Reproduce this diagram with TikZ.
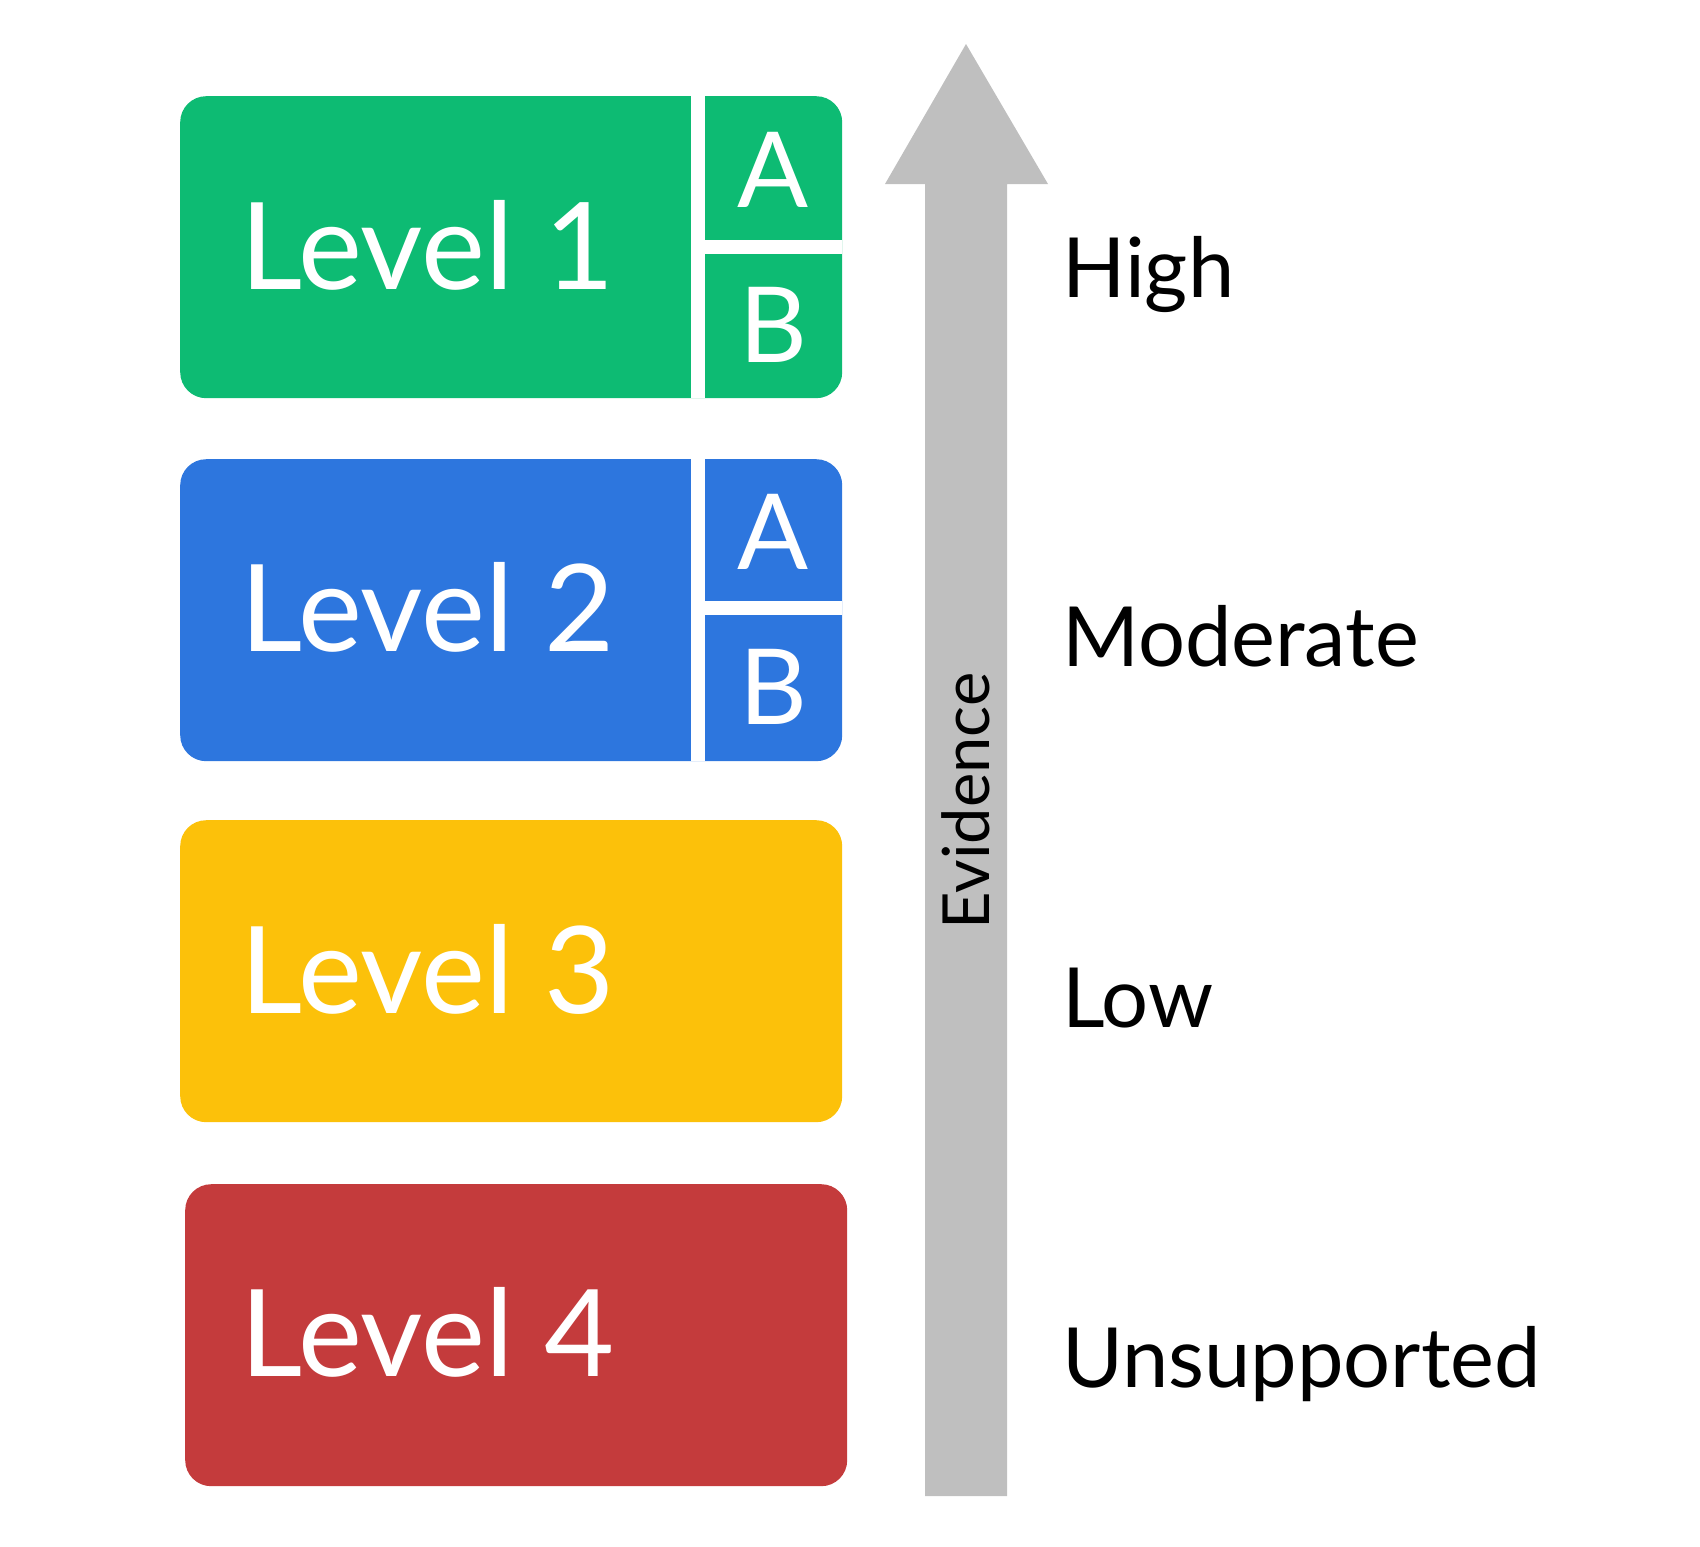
\documentclass[tikz,border=0pt]{standalone}
\usepackage{fontspec}
\setmainfont{Lato}
\usetikzlibrary{positioning}
\definecolor{lvgreen}{HTML}{0DBB73}
\definecolor{lvblue}{HTML}{2D76DE}
\definecolor{lvyellow}{HTML}{FCC10A}
\definecolor{lvred}{HTML}{C43B3C}
\definecolor{arrgray}{HTML}{BFBFBF}
\begin{document}
\begin{tikzpicture}[x=1pt,y=-1pt]
	\tikzstyle{level box}=[draw=none,rounded corners=26pt,minimum width=662pt,minimum height=302pt,anchor=north west,inner sep=0pt]
	\tikzstyle{level text}=[text=white,font=\fontsize{121}{130}\selectfont,anchor=west,inner sep=0pt]
	\tikzstyle{sub text}=[text=white,font=\fontsize{105}{110}\selectfont,inner sep=0pt]
	\tikzstyle{gap}=[white,line width=14pt]
	\tikzstyle{scale text}=[font=\fontsize{83}{90}\selectfont,anchor=west,inner sep=0pt]
	\useasboundingbox (0,0) rectangle (1700,1547);
	% boxes
	\node [level box,fill=lvgreen] (l1) at (180,96) {};
	\node [level box,fill=lvblue] (l2) at (180,459) {};
	\node [level box,fill=lvyellow] (l3) at (180,820) {};
	\node [level box,fill=lvred] (l4) at (185,1184) {};
	% sub divisions
	\draw [gap] (698,96) -- (698,398);
	\draw [gap] (705,247) -- (842,247);
	\draw [gap] (698,459) -- (698,761);
	\draw [gap] (705,608) -- (842,608);
	\node [level text] (t1) at (240,245) {Level 1};
	\node [level text] (t2) at (240,607) {Level 2};
	\node [level text] (t3) at (240,969) {Level 3};
	\node [level text] (t4) at (240,1332) {Level 4};
	\node [sub text] (a1) at (773,170) {A};
	\node [sub text] (b1) at (773,325) {B};
	\node [sub text] (a2) at (773,532) {A};
	\node [sub text] (b2) at (773,687) {B};
	% arrow
	\fill [arrgray] (925,1496) -- (925,184) -- (885,184) -- (966,44) -- (1048,184) -- (1007,184) -- (1007,1496) -- cycle;
	\node [font=\fontsize{65}{70}\selectfont,rotate=90,inner sep=0pt] (ev) at (966,801) {Evidence};
	\node [scale text] (hi) at (1062,275) {High};
	\node [scale text] (mo) at (1062,636) {Moderate};
	\node [scale text] (lo) at (1062,998) {Low};
	\node [scale text] (un) at (1062,1364) {Unsupported};
\end{tikzpicture}
\end{document}
